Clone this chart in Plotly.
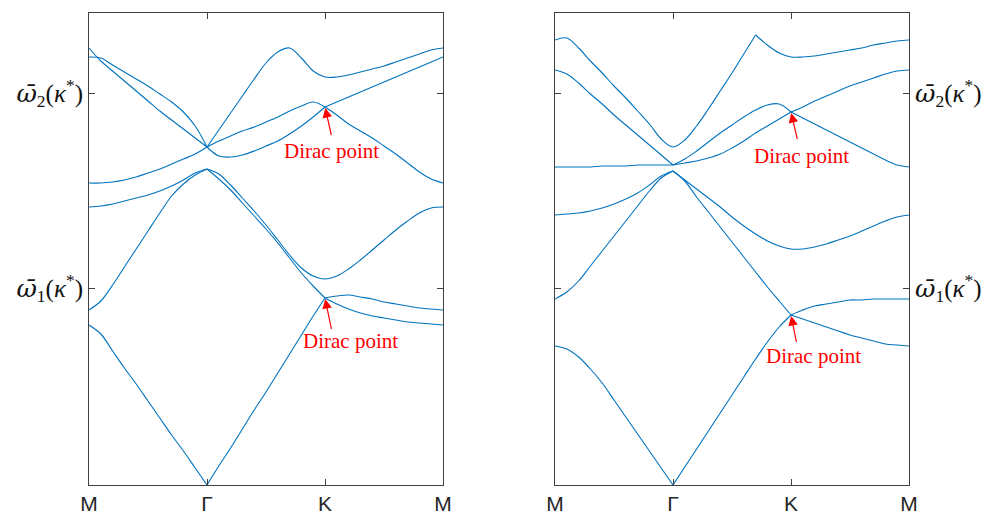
import plotly.graph_objects as go

# k-path positions: M -> Gamma -> K -> M
k = [round(0.1 * i, 1) for i in range(31)]
k_ticks = [0, 1, 2, 3]
k_labels = ["M", "Γ", "K", "M"]

# normalized frequency (arbitrary units), left panel
L_band1 = [160, 151, 134, 117, 101, 84, 67, 50, 34, 17, 0, 19, 37, 56, 75, 93, 112, 131, 150, 169, 187,
           181, 176, 172, 169, 167, 165, 163, 162, 161, 160]
L_band2 = [175, 184, 200, 218, 236, 254, 272, 289, 301, 310, 316, 306, 295, 282, 269, 256, 242, 227, 212, 199, 187,
           189, 190, 188, 186, 183, 181, 179, 177, 176, 175]
L_band3 = [278, 279, 281, 284, 287, 290, 294, 299, 305, 312, 316, 311, 300, 287, 274, 260, 245, 230, 217, 209, 206,
           209, 216, 225, 235, 245, 255, 264, 272, 277, 278]
L_band4 = [302, 302, 303, 305, 308, 312, 316, 321, 326, 331, 338, 329, 328, 330, 334, 339, 344, 351, 359, 368, 378,
           370, 361, 354, 347, 339, 331, 322, 313, 306, 302]
L_band5 = [437, 424, 414, 404, 394, 384, 374, 365, 356, 347, 338, 344, 349, 354, 358, 363, 368, 374, 379, 383, 378,
           383, 388, 393, 398, 403, 408, 413, 418, 423, 428]
L_band6 = [428, 427, 420, 413, 406, 399, 391, 383, 373, 359, 338, 355, 372, 389, 406, 422, 433, 437, 427, 414, 408,
           408, 410, 413, 416, 419, 423, 427, 431, 435, 437]

# right panel
R_band1 = [139, 136, 128, 116, 102, 85, 68, 51, 34, 17, 0, 18, 36, 54, 72, 90, 108, 126, 143, 158, 170,
           166, 162, 158, 154, 150, 147, 144, 141, 140, 139]
R_band2 = [186, 193, 204, 219, 234, 249, 264, 279, 294, 307, 314, 304, 288, 273, 258, 243, 228, 213, 198, 184, 170,
           175, 179, 181, 183, 185, 185, 186, 186, 186, 186]
R_band3 = [270, 271, 272, 274, 277, 281, 286, 292, 300, 309, 314, 305, 296, 287, 278, 268, 259, 251, 244, 239, 236,
           236, 238, 241, 245, 249, 254, 259, 264, 268, 270]
R_band4 = [318, 318, 318, 318, 319, 319, 319, 320, 320, 320, 320, 322, 324, 327, 331, 337, 344, 352, 359, 366, 373,
           367, 361, 355, 349, 343, 337, 331, 325, 320, 318]
R_band5 = [415, 411, 402, 391, 381, 370, 360, 350, 340, 330, 320, 326, 334, 343, 352, 360, 368, 375, 380, 381, 373,
           378, 384, 389, 394, 399, 403, 407, 411, 414, 415]
R_band6 = [445, 447, 437, 424, 412, 399, 387, 374, 361, 346, 338, 345, 359, 376, 394, 412, 431, 450, 440, 432, 428,
           428, 429, 431, 433, 435, 437, 440, 442, 444, 445]

omega_ticks = [197, 392]
omega_labels = [
    "<span style=\"font-family:'DejaVu Serif'\"><i>ω̄</i></span><sub>1</sub>(<i>κ</i><sup>*</sup>)",
    "<span style=\"font-family:'DejaVu Serif'\"><i>ω̄</i></span><sub>2</sub>(<i>κ</i><sup>*</sup>)",
]
y_max = 472

# indices where a band has a cusp (degeneracy / kink) so the curve is split there
KINKS = [0, 10, 20, 30]
left_bands = [(L_band1, KINKS), (L_band2, KINKS), (L_band3, [0, 10, 30]), (L_band4, KINKS),
              (L_band5, KINKS), (L_band6, [0, 10, 30])]
right_bands = [(R_band1, KINKS), (R_band2, KINKS), (R_band3, [0, 10, 30]), (R_band4, KINKS),
               (R_band5, KINKS), (R_band6, [0, 17, 30])]

LINE = "#0072BD"
AX = "#404040"

fig = go.Figure()
for bands, xa, ya in [(left_bands, "x", "y"), (right_bands, "x2", "y2")]:
    for vals, br in bands:
        for a, b in zip(br[:-1], br[1:]):
            fig.add_trace(go.Scatter(x=k[a:b + 1], y=vals[a:b + 1], mode="lines", xaxis=xa, yaxis=ya,
                                     line=dict(color=LINE, width=1.1, shape="spline", smoothing=1.0),
                                     showlegend=False, hoverinfo="skip"))

W, H = 990, 516
xdom1 = [89 / W, 443 / W]
xdom2 = [555 / W, 909 / W]
ydom = [(H - 485) / H, (H - 13) / H]

xcommon = dict(range=[0, 3], tickvals=k_ticks, ticktext=k_labels, showline=True, linecolor=AX,
               linewidth=1, mirror="ticks", ticks="inside", ticklen=6, tickcolor=AX, showgrid=False,
               zeroline=False, tickfont=dict(family="Liberation Sans, Arial", size=21, color="#262626"),
               automargin=False)
ycommon = dict(range=[0, y_max], tickvals=omega_ticks, ticktext=omega_labels, showline=True, linecolor=AX,
               linewidth=1, mirror="ticks", ticks="inside", ticklen=6, tickcolor=AX, showgrid=False,
               zeroline=False, tickfont=dict(family="Liberation Serif, Times New Roman, serif", size=25,
                                             color="#111111"),
               automargin=False)

fig.update_layout(
    width=W, height=H, margin=dict(l=0, r=0, t=0, b=0),
    paper_bgcolor="white", plot_bgcolor="white",
    xaxis=dict(domain=xdom1, anchor="y", **xcommon),
    yaxis=dict(domain=ydom, anchor="x", side="left", **ycommon),
    xaxis2=dict(domain=xdom2, anchor="y2", **xcommon),
    yaxis2=dict(domain=ydom, anchor="x2", side="right", **ycommon),
)

RED = "#FF0000"
dirac = [
    ("x", "y", L_band5[20], 7, 31, 6, -44),
    ("x", "y", L_band2[20], 7, 34, 25, -43),
    ("x2", "y2", R_band5[20], 7, 30, 10, -44),
    ("x2", "y2", R_band2[20], 6, 30, 22, -41),
]
for xr, yr, yv, ax, ay, xs, ys in dirac:
    fig.add_annotation(x=k_ticks[2], y=yv, xref=xr, yref=yr, text=" ", showarrow=True,
                       ax=ax, ay=ay, arrowhead=2, arrowsize=1.6, arrowwidth=1.2, arrowcolor=RED, standoff=1,
                       font=dict(size=2))
    fig.add_annotation(x=k_ticks[2], y=yv, xref=xr, yref=yr, text="Dirac point", showarrow=False,
                       xshift=xs, yshift=ys,
                       font=dict(family="Liberation Serif, Times New Roman, serif", size=21, color=RED))

fig.write_html("out.html", post_script="document.body.style.margin='0px';",
               config={"displayModeBar": False})
